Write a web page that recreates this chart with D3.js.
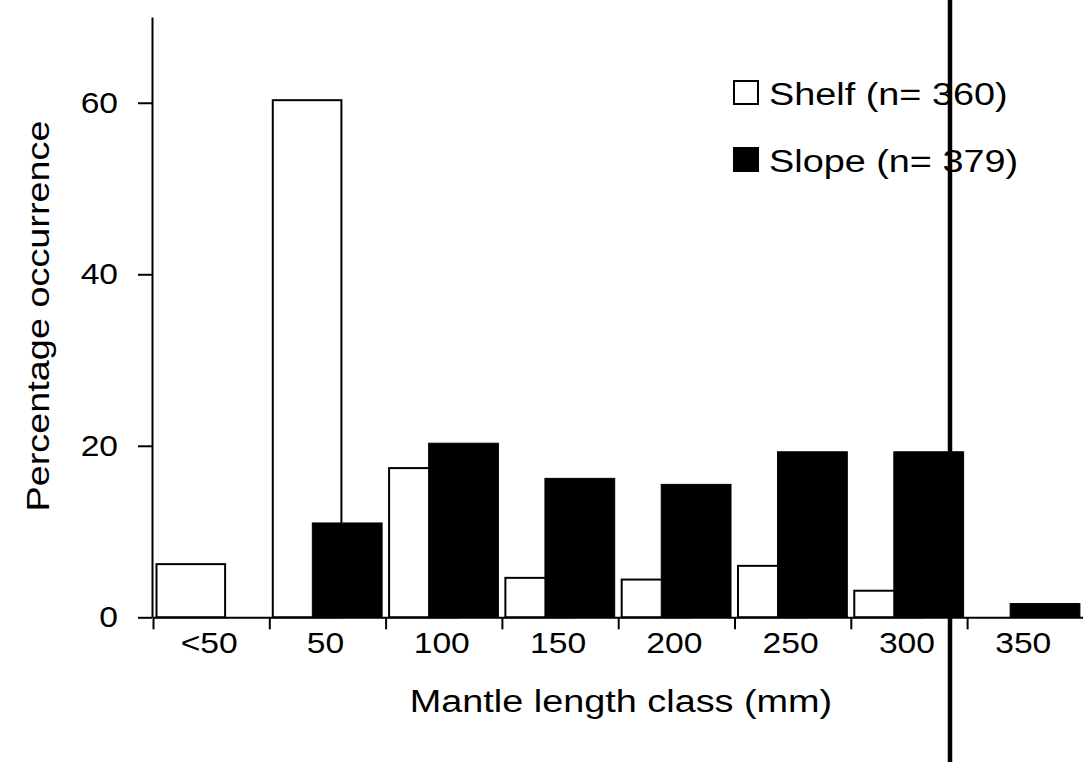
<!DOCTYPE html>
<html>
<head>
<meta charset="utf-8">
<script src="https://cdn.jsdelivr.net/npm/d3@7"></script>
<style>
  html, body { margin: 0; padding: 0; background: #fff; }
  svg { display: block; }
  text { font-family: "Liberation Sans", Arial, Helvetica, sans-serif; fill: #000; }
</style>
</head>
<body>
<svg id="chart" width="1083" height="762"></svg>
<script>
// ---- data ----
const categories = ["<50", "50", "100", "150", "200", "250", "300", "350"];
const shelf = [6.2, 60.3, 17.4, 4.6, 4.4, 6.0, 3.1, 0];
const slope = [0, 11.0, 20.3, 16.2, 15.5, 19.3, 19.3, 1.6];
const yTicks = [0, 20, 40, 60];
const seriesNames = ["Shelf (n= 360)", "Slope (n= 379)"];
const xTitle = "Mantle length class (mm)";
const yTitle = "Percentage occurrence";

// ---- layout ----
const W = 1083, H = 762;
const mLeft = 153, mRight = 1083.4, mTop = 17, mBottom = 617.3;
const svg = d3.select("#chart");

const x = d3.scaleBand().domain(categories).range([mLeft, mRight]).paddingInner(0).paddingOuter(0);
const xEdge = d3.scaleLinear().domain([0, categories.length]).range([mLeft, mRight]);
const y = d3.scaleLinear().domain([0, 70]).range([mBottom, mTop]);
const step = x.bandwidth();

function stretch(sel, f) {
  sel.each(function () {
    const L = this.getComputedTextLength();
    d3.select(this).attr("textLength", L * f).attr("lengthAdjust", "spacingAndGlyphs");
  });
}

// bars
const g = svg.append("g");
categories.forEach((c, i) => {
  const x0 = x(c);
  if (shelf[i] > 0) {
    g.append("rect")
      .attr("x", x0 + step * 0.03)
      .attr("width", step * 0.59)
      .attr("y", y(shelf[i]))
      .attr("height", y(0) - y(shelf[i]))
      .attr("fill", "#fff").attr("stroke", "#000").attr("stroke-width", 2);
  }
  if (slope[i] > 0) {
    g.append("rect")
      .attr("x", x0 + step * 0.37)
      .attr("width", step * 0.6)
      .attr("y", y(slope[i]))
      .attr("height", y(0) - y(slope[i]))
      .attr("fill", "#000").attr("stroke", "#000").attr("stroke-width", 1);
  }
});

// y axis
const yAxis = svg.append("g").attr("transform", `translate(${mLeft - 1},0)`)
  .call(d3.axisLeft(y).tickValues(yTicks).tickSize(14).tickSizeOuter(0).tickPadding(20));
yAxis.select(".domain").attr("stroke-width", 2);
yAxis.selectAll(".tick line").attr("stroke-width", 2);
yAxis.selectAll(".tick text").attr("font-size", 30).attr("font-family", "Liberation Sans, Arial, sans-serif");
stretch(yAxis.selectAll(".tick text"), 1.12);

// x axis (ticks at class boundaries)
const xAxis = svg.append("g").attr("transform", `translate(0,${mBottom})`)
  .call(d3.axisBottom(xEdge).tickValues(d3.range(categories.length)).tickSize(12).tickSizeOuter(0).tickFormat(""));
xAxis.select(".domain").attr("stroke-width", 2);
xAxis.selectAll(".tick line").attr("stroke-width", 2);

// x labels at class centres
const xLab = svg.append("g").attr("transform", `translate(-2,${mBottom})`)
  .call(d3.axisBottom(x).tickSize(0).tickPadding(14));
xLab.select(".domain").remove();
xLab.selectAll(".tick text").attr("font-size", 30).attr("font-family", "Liberation Sans, Arial, sans-serif");
stretch(xLab.selectAll(".tick text"), 1.12);

// axis titles
const xt = svg.append("text").attr("x", 621).attr("y", 712).attr("text-anchor", "middle")
  .attr("font-size", 31).text(xTitle);
stretch(xt, 1.22);
const yt = svg.append("text").attr("transform", "translate(49,316) rotate(-90)").attr("text-anchor", "middle")
  .attr("font-size", 31).text(yTitle);
stretch(yt, 1.22);

// legend
const legend = svg.append("g");
const legY = [105, 172];
const legFill = ["#fff", "#000"];
seriesNames.forEach((name, i) => {
  legend.append("rect").attr("x", 734).attr("y", legY[i] - 24).attr("width", 24).attr("height", 23)
    .attr("fill", legFill[i]).attr("stroke", "#000").attr("stroke-width", 2);
  const t = legend.append("text").attr("x", 769).attr("y", legY[i]).attr("font-size", 31).text(name);
  stretch(t, 1.22);
});

// vertical rule that crosses the scanned page
svg.append("line").attr("x1", 950).attr("x2", 950).attr("y1", 0).attr("y2", H)
  .attr("stroke", "#000").attr("stroke-width", 4.5);
</script>
</body>
</html>
